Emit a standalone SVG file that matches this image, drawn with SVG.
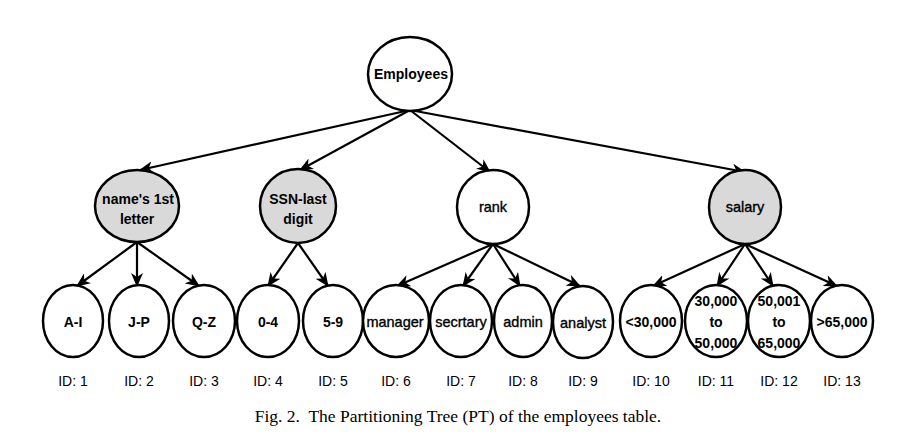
<svg xmlns="http://www.w3.org/2000/svg" width="898" height="440" viewBox="0 0 898 440">
<style>
.n{fill:#fff;stroke:#000;stroke-width:2.5}
.g{fill:#d9d9d9;stroke:#000;stroke-width:2.5}
.t{font-family:"Liberation Sans",Arial,sans-serif;font-size:14px;font-weight:bold;text-anchor:middle;fill:#000}
.m{font-family:"Liberation Sans",Arial,sans-serif;font-size:14.5px;text-anchor:middle;fill:#000;stroke:#000;stroke-width:0.35}
.id{font-family:"Liberation Sans",Arial,sans-serif;font-size:14px;text-anchor:middle;fill:#000}
.e{stroke:#000;stroke-width:2.2;fill:none;marker-end:url(#a)}
.cap{font-family:"Liberation Serif","Times New Roman",serif;font-size:17.5px;text-anchor:middle;fill:#000;white-space:pre}
</style>
<defs>
<marker id="a" markerUnits="userSpaceOnUse" markerWidth="14" markerHeight="12" viewBox="0 0 14 12" refX="13" refY="6" orient="auto">
<path d="M0,0 L14,6 L0,12 L4,6 z" fill="#000"/>
</marker>
</defs>
<g id="edges">
<line class="e" x1="410" y1="110" x2="140" y2="170"/>
<line class="e" x1="410" y1="110" x2="300" y2="170"/>
<line class="e" x1="410" y1="110" x2="490" y2="172"/>
<line class="e" x1="410" y1="110" x2="745" y2="172"/>
<line class="e" x1="137" y1="242" x2="77" y2="286"/>
<line class="e" x1="137" y1="242" x2="137" y2="286"/>
<line class="e" x1="137" y1="242" x2="199" y2="286"/>
<line class="e" x1="298" y1="243" x2="268" y2="286"/>
<line class="e" x1="298" y1="243" x2="328" y2="286"/>
<line class="e" x1="493" y1="244" x2="397" y2="286"/>
<line class="e" x1="493" y1="244" x2="463" y2="286"/>
<line class="e" x1="493" y1="244" x2="520" y2="286"/>
<line class="e" x1="493" y1="244" x2="580" y2="286"/>
<line class="e" x1="745" y1="244" x2="653" y2="286"/>
<line class="e" x1="745" y1="244" x2="717" y2="286"/>
<line class="e" x1="745" y1="244" x2="773" y2="286"/>
<line class="e" x1="745" y1="244" x2="837" y2="286"/>
</g>
<g id="employees"><ellipse class="n" cx="410" cy="74" rx="42" ry="37"/><text class="t" x="411" y="79">Employees</text></g>
<g id="name"><ellipse class="g" cx="137" cy="206" rx="42" ry="36"/><text class="t" x="138" y="204">name's 1st</text><text class="t" x="137" y="224">letter</text></g>
<g id="ssn"><ellipse class="g" cx="298" cy="206" rx="38" ry="37"/><text class="t" x="298" y="204">SSN-last</text><text class="t" x="298" y="224">digit</text></g>
<g id="rank"><ellipse class="n" cx="493" cy="207" rx="36" ry="37"/><text class="m" x="493" y="212">rank</text></g>
<g id="salary"><ellipse class="g" cx="745" cy="207" rx="36" ry="37"/><text class="m" x="745" y="212">salary</text></g>
<g id="l1"><ellipse class="n" cx="73" cy="321" rx="30" ry="36"/><text class="t" x="73" y="327">A-I</text></g>
<g id="l2"><ellipse class="n" cx="139" cy="321" rx="30" ry="36"/><text class="t" x="139" y="327">J-P</text></g>
<g id="l3"><ellipse class="n" cx="204" cy="321" rx="31" ry="36"/><text class="t" x="204" y="327">Q-Z</text></g>
<g id="l4"><ellipse class="n" cx="268" cy="321" rx="31" ry="36"/><text class="t" x="268" y="327">0-4</text></g>
<g id="l5"><ellipse class="n" cx="333" cy="321" rx="30" ry="36"/><text class="t" x="333" y="327">5-9</text></g>
<g id="l6"><ellipse class="n" cx="396" cy="321" rx="33" ry="36"/><text class="m" x="395" y="327">manager</text></g>
<g id="l7"><ellipse class="n" cx="461" cy="321" rx="31" ry="36"/><text class="m" x="461" y="327">secrtary</text></g>
<g id="l8"><ellipse class="n" cx="523" cy="321" rx="29" ry="36"/><text class="m" x="523" y="327">admin</text></g>
<g id="l9"><ellipse class="n" cx="583" cy="322" rx="30" ry="36"/><text class="m" x="583" y="328">analyst</text></g>
<g id="l10"><ellipse class="n" cx="651" cy="321" rx="31" ry="36"/><text class="t" x="651" y="327">&lt;30,000</text></g>
<g id="l11"><ellipse class="n" cx="716" cy="321" rx="31" ry="36"/><text class="t" x="716" y="306">30,000</text><text class="t" x="716" y="327">to</text><text class="t" x="716" y="348">50,000</text></g>
<g id="l12"><ellipse class="n" cx="779" cy="321" rx="31" ry="36"/><text class="t" x="779" y="306">50,001</text><text class="t" x="779" y="327">to</text><text class="t" x="779" y="348">65,000</text></g>
<g id="l13"><ellipse class="n" cx="842" cy="321" rx="31" ry="36"/><text class="t" x="842" y="327">&gt;65,000</text></g>
<g id="ids">
<text class="id" x="73" y="386">ID: 1</text>
<text class="id" x="139" y="386">ID: 2</text>
<text class="id" x="204" y="386">ID: 3</text>
<text class="id" x="268" y="386">ID: 4</text>
<text class="id" x="333" y="386">ID: 5</text>
<text class="id" x="396" y="386">ID: 6</text>
<text class="id" x="461" y="386">ID: 7</text>
<text class="id" x="523" y="386">ID: 8</text>
<text class="id" x="583" y="386">ID: 9</text>
<text class="id" x="651" y="386">ID: 10</text>
<text class="id" x="716" y="386">ID: 11</text>
<text class="id" x="779" y="386">ID: 12</text>
<text class="id" x="842" y="386">ID: 13</text>
</g>
<text class="cap" x="458" y="422" xml:space="preserve">Fig. 2.  The Partitioning Tree (PT) of the employees table.</text>
</svg>
